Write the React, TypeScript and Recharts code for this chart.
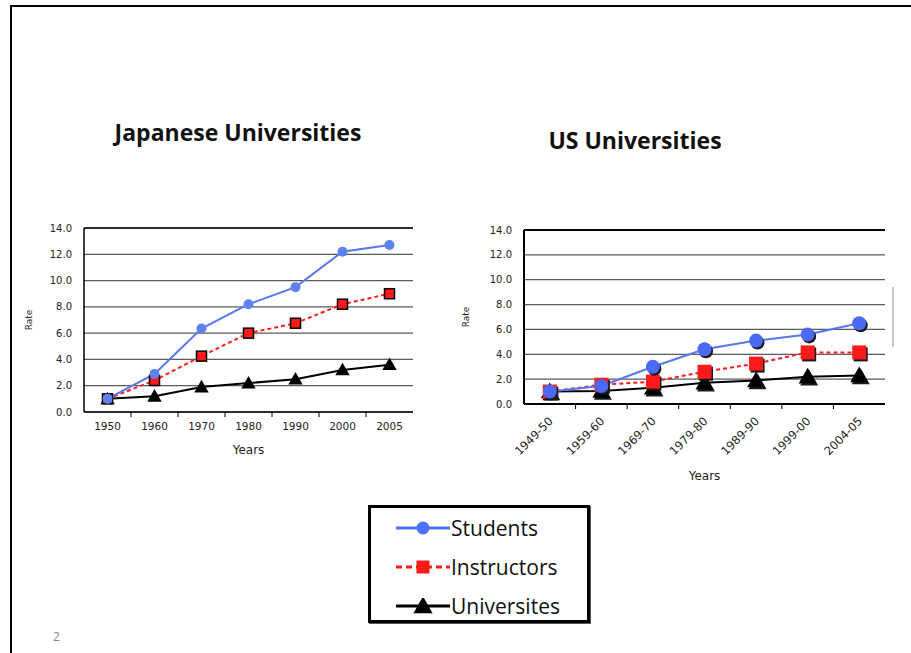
import React from "react";
import { LineChart, Line, XAxis, YAxis, CartesianGrid, ReferenceLine } from "recharts";

// growth rate vs. base year (1.0)
const JP_YEARS = ["1950", "1960", "1970", "1980", "1990", "2000", "2005"];
const JP_STUDENTS = [1.0, 2.9, 6.35, 8.2, 9.5, 12.2, 12.7];
const JP_INSTRUCTORS = [1.0, 2.4, 4.25, 6.0, 6.75, 8.2, 9.0];
const JP_UNIVERSITIES = [1.0, 1.2, 1.9, 2.2, 2.5, 3.2, 3.6];

const US_YEARS = ["1949-50", "1959-60", "1969-70", "1979-80", "1989-90", "1999-00", "2004-05"];
const US_STUDENTS = [1.0, 1.45, 3.0, 4.4, 5.1, 5.6, 6.5];
const US_INSTRUCTORS = [1.0, 1.55, 1.8, 2.6, 3.25, 4.15, 4.15];
const US_UNIVERSITIES = [1.0, 1.05, 1.3, 1.7, 1.9, 2.2, 2.3];

const RATE_TICKS = [0, 2, 4, 6, 8, 10, 12, 14];

const BLUE = "#5577f2";
const RED = "#ff1a1a";
const TICK_SIZE = 5;
const TICK_MARGIN = 4;
const AXIS_FONT = "'DejaVu Sans', Verdana, sans-serif";

const jpData = JP_YEARS.map((year, i) => ({
  year,
  students: JP_STUDENTS[i],
  instructors: JP_INSTRUCTORS[i],
  universities: JP_UNIVERSITIES[i],
}));

const usData = US_YEARS.map((year, i) => ({
  year,
  students: US_STUDENTS[i],
  instructors: US_INSTRUCTORS[i],
  universities: US_UNIVERSITIES[i],
}));

type Shape = "circle" | "square" | "triangle";

function trianglePath(cx: number, cy: number, s: number) {
  return `M${cx},${cy - s * 0.6} L${cx + s * 0.6},${cy + s * 0.45} L${cx - s * 0.6},${cy + s * 0.45} Z`;
}

function Marker({ shape, cx, cy, size, fill, stroke, shadow }: any) {
  const draw = (x: number, y: number, f: string, st?: string) => {
    if (shape === "circle") return <circle cx={x} cy={y} r={size / 2} fill={f} stroke={st || "none"} />;
    if (shape === "square")
      return (
        <rect x={x - size / 2} y={y - size / 2} width={size} height={size} fill={f} stroke={st || "none"} strokeWidth={1.5} />
      );
    return <path d={trianglePath(x, y, size)} fill={f} stroke={st || "none"} />;
  };
  return (
    <g>
      {shadow && draw(cx + 1.5, cy + 2, "#1a1a1a")}
      {draw(cx, cy, fill, stroke)}
    </g>
  );
}

function dotFor(shape: Shape, size: number, fill: string, stroke?: string, shadow?: boolean) {
  return (p: any) => (
    <Marker key={`${shape}-${p.index}`} shape={shape} cx={p.cx} cy={p.cy} size={size} fill={fill} stroke={stroke} shadow={shadow} />
  );
}

// category label plus a small tick mark on the boundary between categories
function BandTick({ x, y, payload, index, band, rotate }: any) {
  const axisY = y - TICK_SIZE - TICK_MARGIN;
  const bx = x - band / 2;
  return (
    <g>
      {index > 0 && <line x1={bx} x2={bx} y1={axisY} y2={axisY + TICK_SIZE} stroke="#000" strokeWidth={1} />}
      {rotate ? (
        <text
          x={x + 1}
          y={y + 6}
          transform={`rotate(-45 ${x + 1} ${y + 6})`}
          textAnchor="end"
          dy="0.35em"
          fontSize={11.5}
          fontFamily={AXIS_FONT}
          fill="#222"
        >
          {payload.value}
        </text>
      ) : (
        <text x={x} y={y + 1} textAnchor="middle" dy="0.8em" fontSize={10.5} fontFamily={AXIS_FONT} fill="#222">
          {payload.value}
        </text>
      )}
    </g>
  );
}

function RateChart({ data, width, height, margin, xAxisHeight, rotate, big, labelOffset }: any) {
  const plotWidth = width - margin.left - margin.right - 60;
  const band = plotWidth / data.length;
  const m = big ? 14 : 10;
  const frame = big ? 2 : 1.5;
  return (
    <LineChart width={width} height={height} data={data} margin={margin}>
      <CartesianGrid vertical={false} stroke="#5a5a5a" strokeWidth={1.2} />
      <ReferenceLine y={14} stroke="#000" strokeWidth={frame} />
      <XAxis
        dataKey="year"
        height={xAxisHeight}
        padding={{ left: band / 2, right: band / 2 }}
        axisLine={{ stroke: "#000", strokeWidth: frame }}
        tickLine={false}
        tickSize={TICK_SIZE}
        tickMargin={TICK_MARGIN}
        interval={0}
        tick={<BandTick band={band} rotate={rotate} />}
        label={{ value: "Years", position: "insideBottom", offset: 2, fontSize: 12, fontFamily: AXIS_FONT, fill: "#222" }}
      />
      <YAxis
        width={60}
        domain={[0, 14]}
        ticks={RATE_TICKS}
        axisLine={{ stroke: "#000", strokeWidth: frame }}
        tickLine={false}
        tickSize={0}
        tickMargin={12}
        tickFormatter={(v: number) => v.toFixed(1)}
        tick={{ fontSize: 10, fontFamily: AXIS_FONT, fill: "#222" }}
        label={{
          value: "Rate",
          angle: -90,
          position: "insideLeft",
          offset: labelOffset,
          fontSize: 9,
          fontFamily: AXIS_FONT,
          fill: "#222",
          style: { textAnchor: "middle" },
        }}
      />
      <YAxis yAxisId="frame" orientation="right" width={0} tick={false} tickLine={false} axisLine={{ stroke: "#000", strokeWidth: frame }} />
      <Line
        dataKey="universities"
        stroke="#000"
        strokeWidth={2}
        isAnimationActive={false}
        dot={dotFor("triangle", big ? 15 : 12, "#000", undefined, big)}
      />
      <Line
        dataKey="instructors"
        stroke={RED}
        strokeWidth={2}
        strokeDasharray="4 3"
        isAnimationActive={false}
        dot={dotFor("square", m, RED, big ? undefined : "#000", big)}
      />
      <Line
        dataKey="students"
        stroke={BLUE}
        strokeWidth={2}
        isAnimationActive={false}
        dot={dotFor("circle", m, big ? "#4b69f2" : "#5c82ee", undefined, big)}
      />
    </LineChart>
  );
}

function LegendIcon({ shape, color, dashed }: { shape: Shape; color: string; dashed?: boolean }) {
  return (
    <svg width={56} height={16} style={{ display: "block" }}>
      <line x1={1} x2={55} y1={8} y2={8} stroke={color} strokeWidth={3} strokeDasharray={dashed ? "6 4" : undefined} />
      <Marker shape={shape} cx={28} cy={8} size={shape === "triangle" ? 16 : 13} fill={color} />
    </svg>
  );
}

const LEGEND_ITEMS: { label: string; shape: Shape; color: string; dashed?: boolean }[] = [
  { label: "Students", shape: "circle", color: "#4a72f5" },
  { label: "Instructors", shape: "square", color: RED, dashed: true },
  { label: "Universites", shape: "triangle", color: "#000" },
];

const titleStyle: React.CSSProperties = {
  position: "absolute",
  fontFamily: "'Open Sans', sans-serif",
  fontWeight: 700,
  fontSize: 23,
  color: "#111",
  whiteSpace: "nowrap",
  transform: "translate(-50%, -50%)",
};

export default function App() {
  return (
    <div
      style={{
        position: "absolute",
        left: 0,
        top: 0,
        width: 911,
        height: 653,
        overflow: "hidden",
        background: "#fff",
      }}
    >
      <div
        style={{
          position: "absolute",
          left: 10,
          top: 5,
          width: 960,
          height: 700,
          borderTop: "2px solid #000",
          borderLeft: "2px solid #000",
        }}
      />

      <div style={{ ...titleStyle, left: 238, top: 132 }}>Japanese Universities</div>
      <div style={{ ...titleStyle, left: 635, top: 140 }}>US Universities</div>

      <div style={{ position: "absolute", left: 0, top: 200 }}>
        <RateChart
          data={jpData}
          width={440}
          height={270}
          margin={{ top: 28, right: 27, left: 24, bottom: 14 }}
          xAxisHeight={44}
          rotate={false}
          big={false}
          labelOffset={5}
        />
      </div>

      <div style={{ position: "absolute", left: 450, top: 200 }}>
        <RateChart
          data={usData}
          width={460}
          height={300}
          margin={{ top: 30, right: 25, left: 14, bottom: 18 }}
          xAxisHeight={78}
          rotate={true}
          big={true}
          labelOffset={2}
        />
      </div>

      <div style={{ position: "absolute", left: 892, top: 287, width: 2, height: 60, background: "#c8c8c8" }} />

      <div
        style={{
          position: "absolute",
          left: 368,
          top: 505,
          width: 216,
          height: 112,
          border: "3px solid #000",
          boxShadow: "1px 1px 0 #555",
        }}
      >
        {LEGEND_ITEMS.map((item, i) => (
          <div
            key={item.label}
            style={{
              position: "absolute",
              left: 24,
              top: 7 + i * 39,
              display: "flex",
              alignItems: "center",
              height: 26,
            }}
          >
            <LegendIcon shape={item.shape} color={item.color} dashed={item.dashed} />
            <span style={{ fontFamily: "'Open Sans', sans-serif", fontSize: 21, color: "#111" }}>{item.label}</span>
          </div>
        ))}
      </div>

      <div
        style={{
          position: "absolute",
          left: 53,
          top: 628,
          fontFamily: "'Open Sans', sans-serif",
          fontSize: 12,
          color: "#888",
        }}
      >
        2
      </div>
    </div>
  );
}
